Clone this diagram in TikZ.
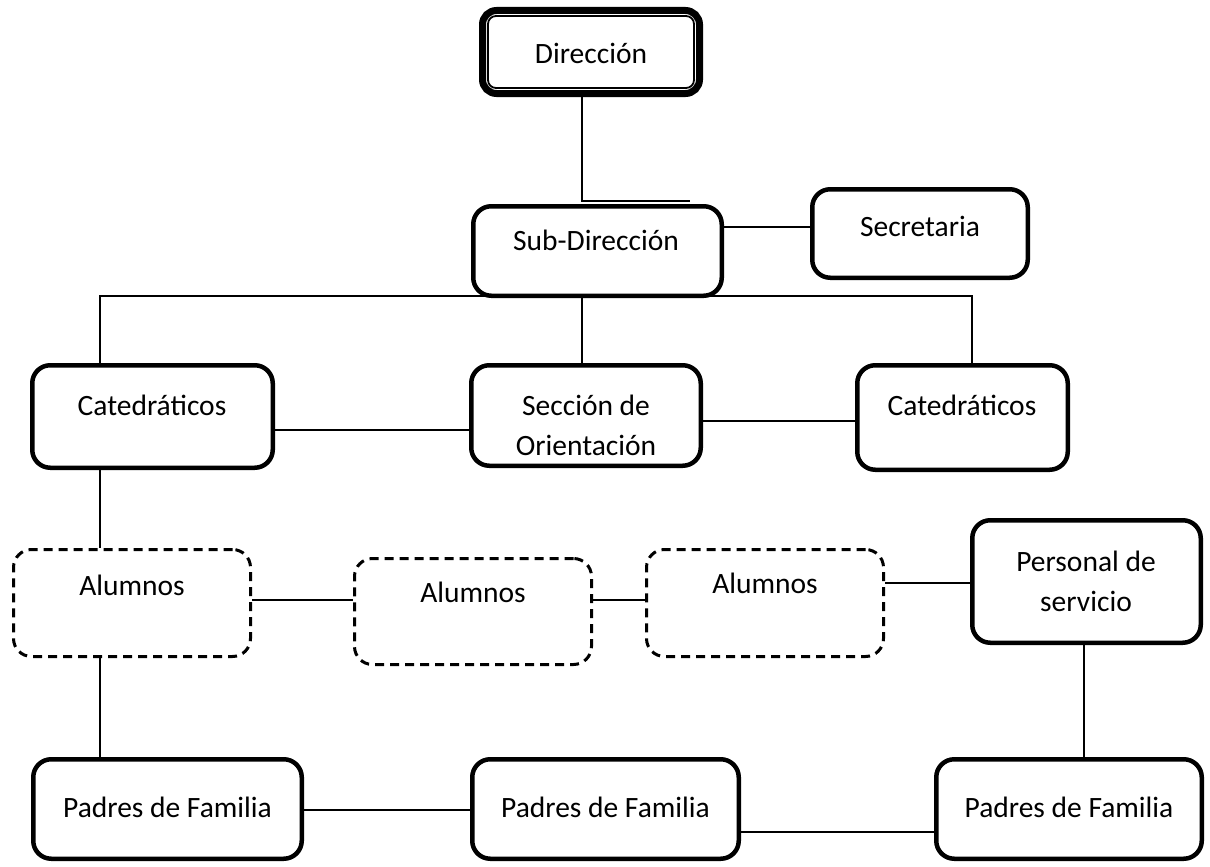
\documentclass[tikz,border=0pt]{standalone}
\usepackage{fontspec}
\setmainfont{Carlito}
\usetikzlibrary{positioning, calc}

\begin{document}
\begin{tikzpicture}[
    x=1pt, y=-1pt,
    orgbox/.style={rectangle, draw=black, line width=4.5pt, rounded corners=18pt, inner sep=0pt},
    dashbox/.style={rectangle, draw=black, line width=3pt, dash pattern=on 9pt off 6pt, rounded corners=18pt, inner sep=0pt},
    headbox/.style={rectangle, draw=black, line width=7pt, rounded corners=14pt, inner sep=0pt},
    lbl/.style={align=center, font=\fontsize{29.5}{40}\selectfont, inner sep=0pt},
    link/.style={line width=1.6pt},
]
\useasboundingbox (0,0) rectangle (1210,867);

% top
\node[headbox, minimum width=217pt, minimum height=83pt](dir) at (591,52){};
\draw[line width=1.8pt, rounded corners=8pt] ($(dir.north west)+(9,9)$) rectangle ($(dir.south east)+(-9,-9)$);
\node[lbl](dir-t) at (591,53){Dirección};

\node[orgbox, minimum width=248.5pt, minimum height=89.5pt](sub) at (597.5,251){};
\node[lbl](sub-t) at (596,240){Sub-Dirección};
\node[orgbox, minimum width=215.5pt, minimum height=88.5pt](sec) at (920,233.5){};
\node[lbl](sec-t) at (920,226){Secretaria};

% second level
\node[orgbox, minimum width=240.5pt, minimum height=102.5pt](catL) at (152.5,416.5){};
\node[lbl](catL-t) at (152,405){Catedráticos};
\node[orgbox, minimum width=229.5pt, minimum height=100.5pt](secc) at (586,415.5){};
\node[lbl](secc-t) at (586,425){Sección de\\Orientación};
\node[orgbox, minimum width=210.5pt, minimum height=104.5pt](catR) at (962.5,417.5){};
\node[lbl](catR-t) at (962,405){Catedráticos};

% students
\node[dashbox, minimum width=237pt, minimum height=107pt](alum1) at (132,603){};
\node[lbl](alum1-t) at (132,585){Alumnos};
\node[dashbox, minimum width=237pt, minimum height=106pt](alum2) at (473,611.5){};
\node[lbl](alum2-t) at (473,592){Alumnos};
\node[dashbox, minimum width=237pt, minimum height=107pt](alum3) at (765,603){};
\node[lbl](alum3-t) at (765,583){Alumnos};
\node[orgbox, minimum width=228.5pt, minimum height=122.5pt](pers) at (1086.5,581.5){};
\node[lbl](pers-t) at (1086,581){Personal de\\servicio};

% parents
\node[orgbox, minimum width=268.5pt, minimum height=99.5pt](pad1) at (167.5,809){};
\node[lbl](pad1-t) at (167.5,807){Padres de Familia};
\node[orgbox, minimum width=266.5pt, minimum height=99.5pt](pad2) at (605.5,809){};
\node[lbl](pad2-t) at (605.5,807){Padres de Familia};
\node[orgbox, minimum width=265.5pt, minimum height=99.5pt](pad3) at (1069,809){};
\node[lbl](pad3-t) at (1069,807){Padres de Familia};

% connectors
\coordinate (spine) at (582,201);
\coordinate (stub) at (690,201);
\coordinate (busL) at (100,296);
\coordinate (busR) at (972,296);
\coordinate (drop) at (1084,700);
\draw[link] (dir.south -| spine) -- (spine) -- (stub);
\draw[link] (sub.east |- 0,227) -- (sec.west |- 0,227);
\draw[link] (catL.north -| busL) -- (busL) -- (busR) -- (catR.north -| busR);
\draw[link] (sub.south -| spine) -- (secc.north -| spine);
\draw[link] (catL.east |- 0,430) -- (secc.west |- 0,430);
\draw[link] (secc.east |- 0,421) -- (catR.west |- 0,421);
\draw[link] (catL.south -| busL) -- (alum1.north -| busL);
\draw[link] (alum1.east |- 0,600) -- (alum2.west |- 0,600);
\draw[link] (alum2.east |- 0,600) -- (alum3.west |- 0,600);
\draw[link] (alum3.east |- 0,583) -- (pers.west |- 0,583);
\draw[link] (alum1.south -| busL) -- (pad1.north -| busL);
\draw[link] (pers.south -| drop) -- (pad3.north -| drop);
\draw[link] (pad1.east |- 0,810) -- (pad2.west |- 0,810);
\draw[link] (pad2.east |- 0,832) -- (pad3.west |- 0,832);
\end{tikzpicture}
\end{document}
